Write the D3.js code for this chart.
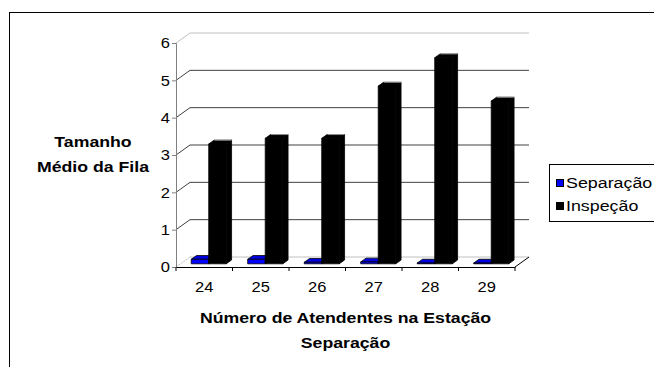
<!DOCTYPE html>
<html>
<head>
<meta charset="utf-8">
<script src="https://cdn.jsdelivr.net/npm/d3@7"></script>
<style>
  html, body { margin: 0; padding: 0; background: #fff; overflow: hidden; }
  svg { display: block; font-family: "Liberation Sans", Arial, sans-serif; }
</style>
</head>
<body>
<svg id="chart" width="654" height="367"></svg>
<script>
// ---- data ----
const categories = ["24", "25", "26", "27", "28", "29"];
const seriesNames = ["Separação", "Inspeção"];
const separacao = [0.12, 0.12, 0.04, 0.05, 0.02, 0.02];
const inspecao = [3.21, 3.36, 3.36, 4.76, 5.52, 4.36];
const yTicks = [0, 1, 2, 3, 4, 5, 6];
const yTitle = ["Tamanho", "Médio da Fila"];
const xTitle = ["Número de Atendentes na Estação", "Separação"];
const seriesColors = ["#0000FF", "#000000"];

// ---- layout ----
const svg = d3.select("#chart");
const X0 = 176, X1 = 515, Y0 = 267, Y1 = 43;
const DX = 14, DY = -10;           // full depth offset of the 3D box
const Z0 = 0.32, Z1 = 0.70;        // depth span of the bars
const SX = 1.18;                   // horizontal stretch of title text
const SXT = 1.1;                   // horizontal stretch of tick labels

const x = d3.scaleBand().domain(categories).range([X0, X1]).padding(0);
const y = d3.scaleLinear().domain([0, 6]).range([Y0, Y1]);
const P = (px, v, z) => [px + DX * z, y(v) + DY * z];

function stretchedText(g, tx, ty, str, opts) {
  return g.append("text")
    .attr("transform", `translate(${tx},${ty}) scale(${opts.sx || SX},1)`)
    .attr("text-anchor", opts.anchor || "middle")
    .attr("font-size", opts.size || 15)
    .attr("font-weight", opts.weight || "normal")
    .attr("fill", "#000")
    .text(str);
}

// outer chart border (extends beyond the window on right and bottom)
svg.append("rect").attr("x", 9.5).attr("y", 12.5).attr("width", 700).attr("height", 400)
  .attr("fill", "none").attr("stroke", "#000").attr("stroke-width", 1);

// ---- walls & gridlines ----
const grid = svg.append("g");
yTicks.forEach(v => {
  const light = (v === 0 || v === 6);
  const col = light ? "#c0c0c0" : "#404040";
  const a = P(X0, v, 0), b = P(X0, v, 1), c = P(X1, v, 1);
  grid.append("line").attr("x1", a[0]).attr("y1", a[1]).attr("x2", b[0]).attr("y2", b[1])
    .attr("stroke", col).attr("stroke-width", 1)
    .attr("stroke-dasharray", v === 0 ? "2,1" : null);
  grid.append("line").attr("x1", b[0]).attr("y1", b[1]).attr("x2", c[0]).attr("y2", c[1])
    .attr("stroke", col).attr("stroke-width", 1);
});

// floor right edge
const f0 = P(X1, 0, 0), f1 = P(X1, 0, 1);
grid.append("line").attr("x1", f0[0]).attr("y1", f0[1]).attr("x2", f1[0]).attr("y2", f1[1])
  .attr("stroke", "#000").attr("stroke-width", 1);

// ---- bars ----
const bw = x.bandwidth() * 0.31;
const barsG = svg.append("g");
const poly = pts => pts.map(p => p.join(",")).join(" ");
function prism(x0, x1, v, fill, topFill, sideFill, strokeCol, highlight) {
  const g = barsG.append("g").attr("stroke", strokeCol).attr("stroke-width", 0.8).attr("stroke-linejoin", "round");
  g.append("polygon").attr("points", poly([P(x1, 0, Z0), P(x1, 0, Z1), P(x1, v, Z1), P(x1, v, Z0)])).attr("fill", sideFill);
  g.append("polygon").attr("points", poly([P(x0, v, Z0), P(x1, v, Z0), P(x1, v, Z1), P(x0, v, Z1)])).attr("fill", topFill);
  g.append("polygon").attr("points", poly([P(x0, 0, Z0), P(x1, 0, Z0), P(x1, v, Z0), P(x0, v, Z0)])).attr("fill", fill);
  if (highlight) {
    const a = P(x0, v, Z1), b = P(x1, v, Z1);
    barsG.append("line").attr("x1", a[0] + 0.5).attr("y1", a[1]).attr("x2", b[0]).attr("y2", b[1])
      .attr("stroke", highlight).attr("stroke-width", 0.8);
  }
}
categories.forEach((c, i) => {
  const cx = x(c) + x.bandwidth() / 2;
  prism(cx - bw, cx, separacao[i], "#0000FF", "#0000E0", "#0000A0", "#000", null);
  prism(cx, cx + bw, inspecao[i], "#000", "#000", "#000", "#000", "#b0b0b0");
});

// ---- y axis ----
const yAxis = svg.append("g").attr("transform", `translate(${X0},0)`)
  .call(d3.axisLeft(y).tickValues(yTicks).tickFormat(d3.format("d")).tickSize(4).tickPadding(2));
yAxis.select(".domain").attr("stroke", "#808080");
yAxis.selectAll(".tick line").attr("stroke", "#808080");
yAxis.selectAll(".tick text")
  .attr("font-family", "Liberation Sans, Arial, sans-serif")
  .attr("font-size", 15).attr("fill", "#000")
  .attr("x", -6 / SXT).attr("transform", `scale(${SXT},1)`);

// ---- x axis ----
const xAxisG = svg.append("g").attr("transform", `translate(0,${Y0})`);
xAxisG.call(d3.axisBottom(x).tickSize(0).tickPadding(14));
xAxisG.select(".domain").attr("stroke", "#000");
xAxisG.selectAll(".tick text")
  .attr("font-family", "Liberation Sans, Arial, sans-serif")
  .attr("font-size", 15).attr("fill", "#000")
  .attr("transform", `scale(${SXT},1)`);
// boundary tick marks between categories
const bounds = categories.map(c => x(c)).concat([X1]);
xAxisG.selectAll("line.bt").data(bounds).enter().append("line").attr("class", "bt")
  .attr("x1", d => d).attr("x2", d => d).attr("y1", 0).attr("y2", 4)
  .attr("stroke", "#000");

// ---- axis titles ----
const tg = svg.append("g");
stretchedText(tg, 93, 147, yTitle[0], { size: 15, weight: "bold" });
stretchedText(tg, 93, 172, yTitle[1], { size: 15, weight: "bold" });
const xc = (X0 + X1) / 2;
stretchedText(tg, xc, 323, xTitle[0], { size: 15, weight: "bold" });
stretchedText(tg, xc, 348, xTitle[1], { size: 15, weight: "bold" });

// ---- legend ----
const lg = svg.append("g");
lg.append("rect").attr("x", 549.5).attr("y", 164.5).attr("width", 130).attr("height", 57)
  .attr("fill", "#fff").attr("stroke", "#000").attr("stroke-width", 1);
seriesNames.forEach((s, i) => {
  const cy = 183 + i * 23;
  lg.append("rect").attr("x", 556.5).attr("y", cy - 3.5).attr("width", 7).attr("height", 7)
    .attr("fill", seriesColors[i]).attr("stroke", "#000").attr("stroke-width", 1);
  stretchedText(lg, 566, cy + 5, s, { size: 15, anchor: "start", sx: 1.19 });
});
</script>
</body>
</html>
